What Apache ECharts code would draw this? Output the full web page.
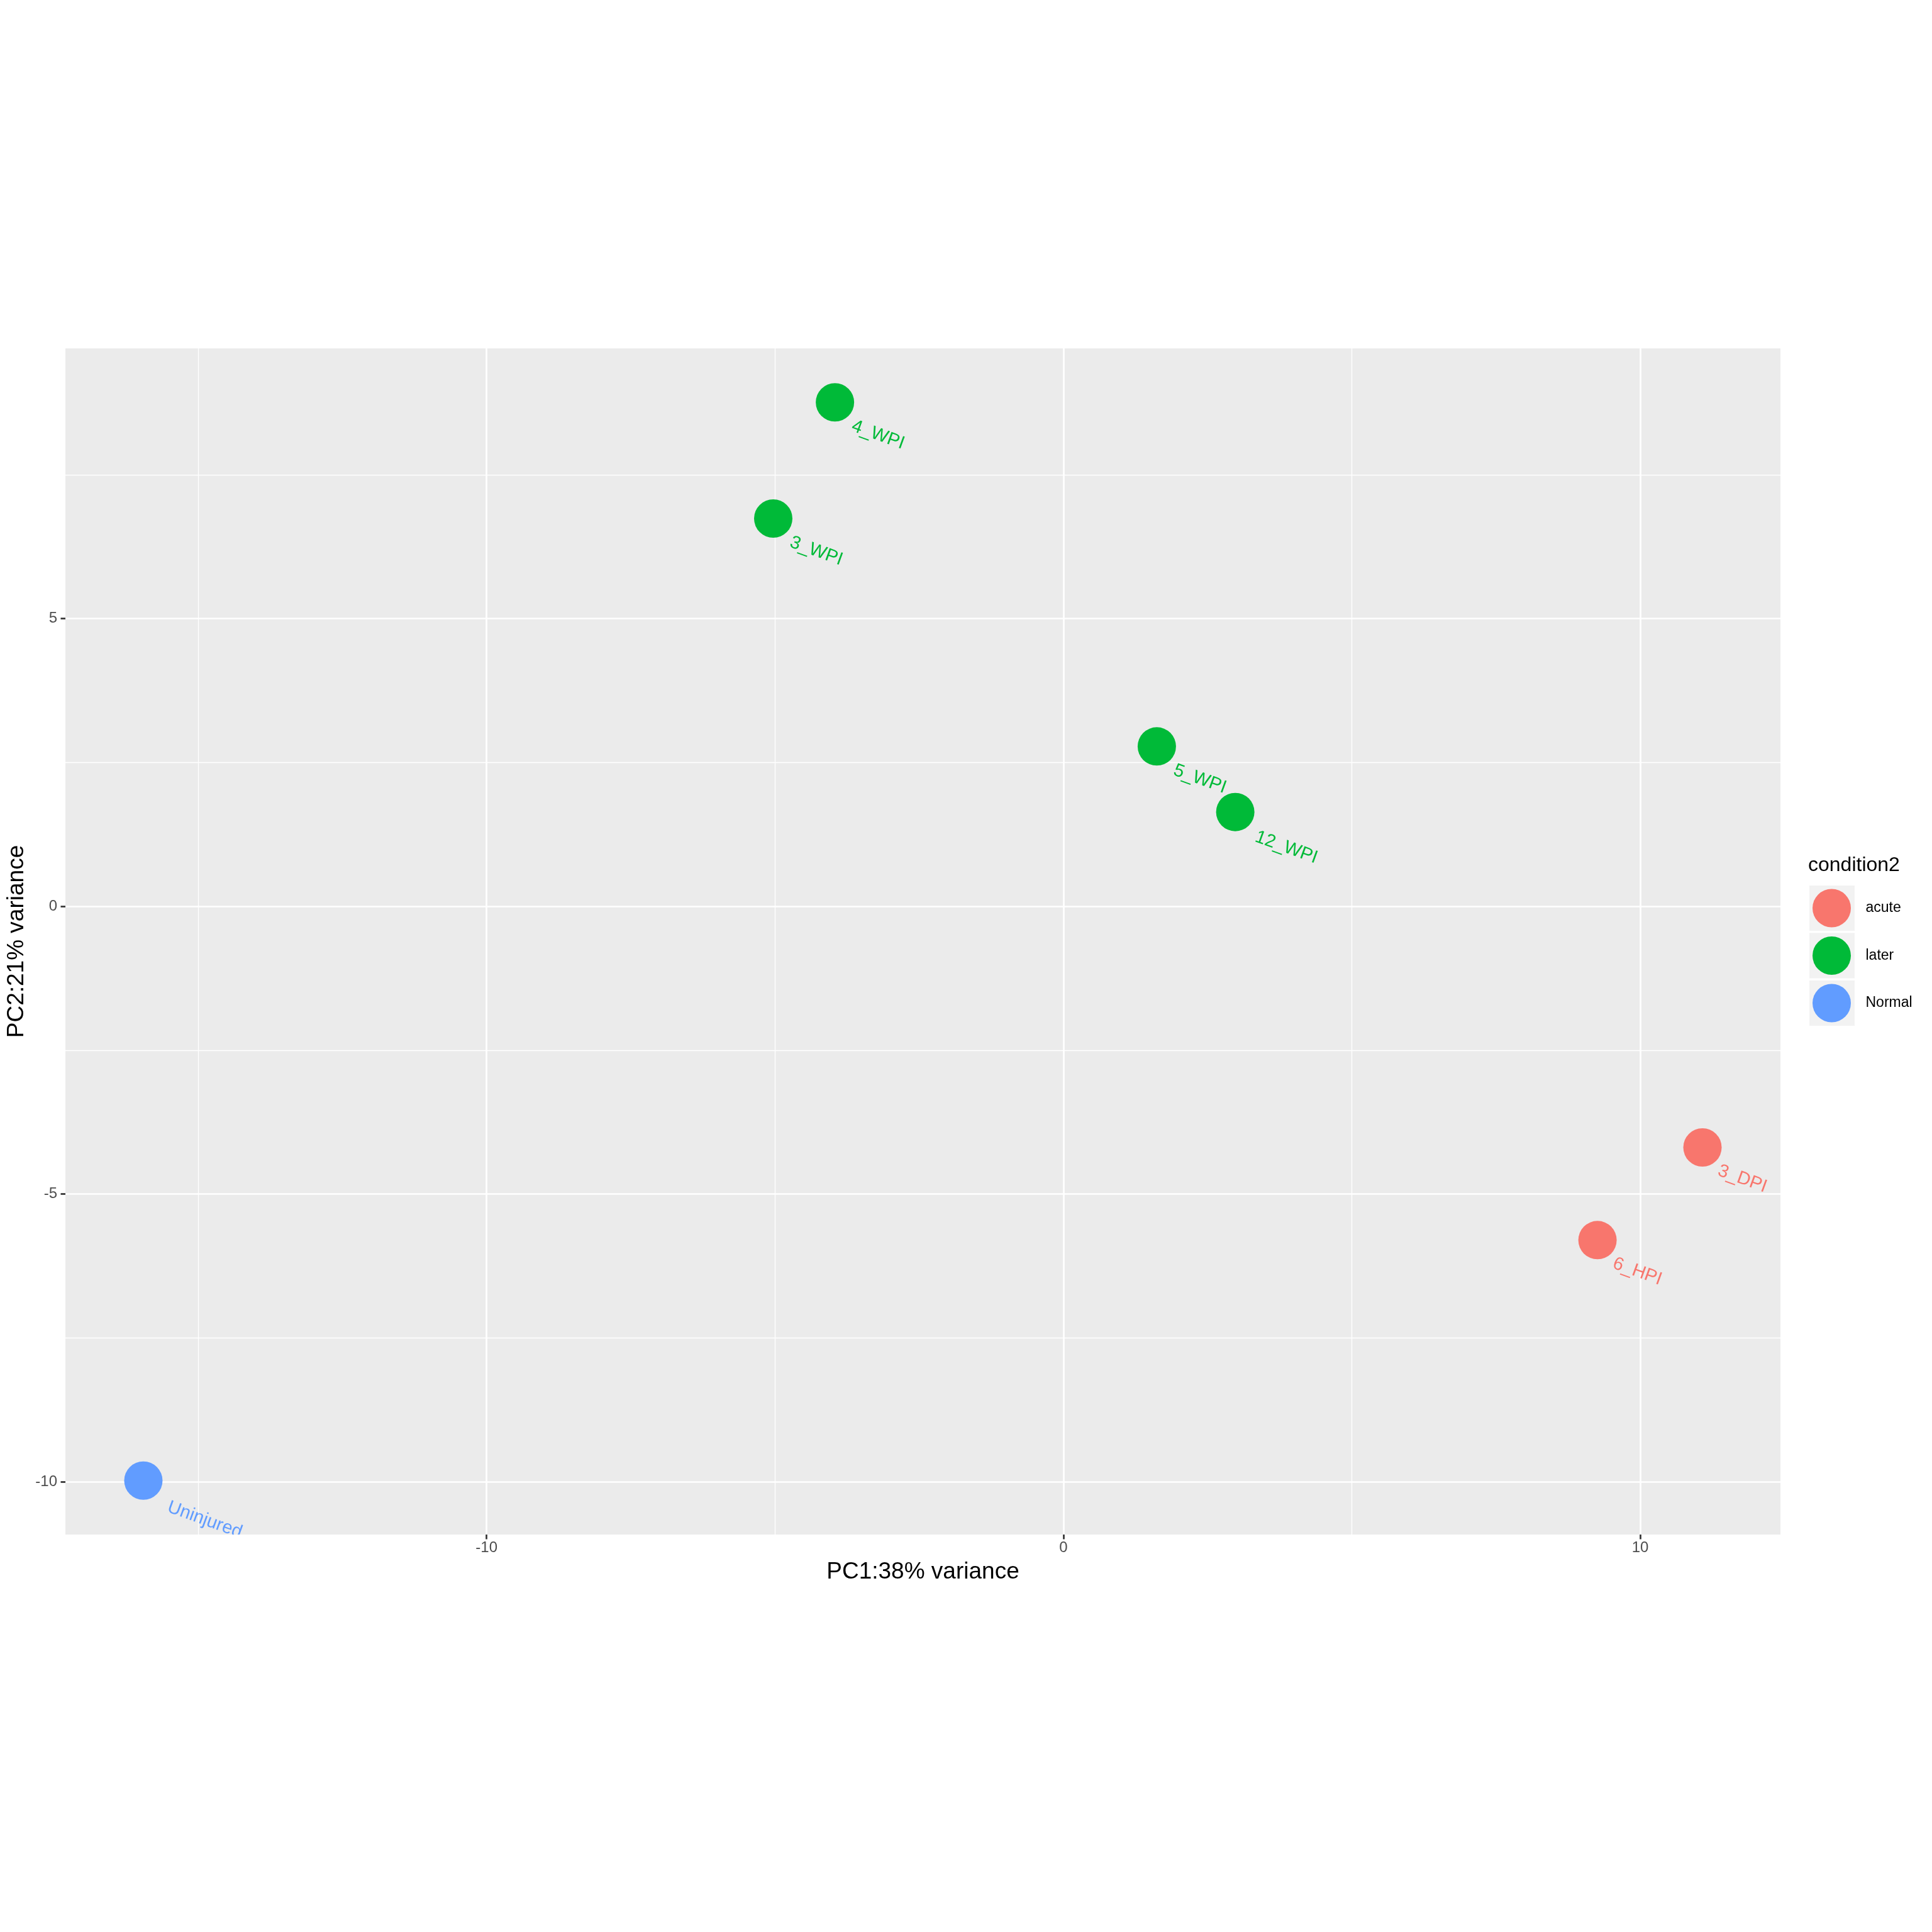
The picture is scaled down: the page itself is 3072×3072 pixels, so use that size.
<!DOCTYPE html>
<html><head><meta charset="utf-8">
<script src="https://cdn.jsdelivr.net/npm/echarts@6/dist/echarts.min.js"></script>
<style>html,body{margin:0;padding:0;background:#fff}#c{width:3072px;height:3072px}</style>
</head><body><div id="c"></div>
<script>
const sampleNames = ['3_DPI', '6_HPI', '3_WPI', '4_WPI', '5_WPI', '12_WPI', 'Uninjured'];
const sampleGroups = ['acute', 'acute', 'later', 'later', 'later', 'later', 'Normal'];
const pc1Values = [11.08, 9.26, -5.03, -3.96, 1.62, 2.98, -15.95];
const pc2Values = [-4.19, -5.80, 6.74, 8.76, 2.78, 1.64, -9.98];
const groupNames = ['acute', 'later', 'Normal'];
const groupColors = ['#F8766D', '#00BA38', '#619CFF'];
const xMajorTicks = [-10, 0, 10];
const xMinorTicks = [-15, -5, 5];
const yMajorTicks = [-10, -5, 0, 5];
const yMinorTicks = [-7.5, -2.5, 2.5, 7.5];
const xTitle = 'PC1:38% variance';
const yTitle = 'PC2:21% variance';
const legendTitle = 'condition2';

const FONT = 'Liberation Sans';
const LABEL_SIZE = 29;
const LABEL_ANGLE = -20;
function expandRange(vals) {
  const lo = Math.min(...vals), hi = Math.max(...vals), pad = (hi - lo) * 0.05;
  return [lo - pad, hi + pad];
}
const [xMin, xMax] = expandRange(pc1Values);
const [yMin, yMax] = expandRange(pc2Values);

// label offset: a fixed nudge plus a shift along the (rotated) text direction proportional to its width
const mctx = document.createElement('canvas').getContext('2d');
mctx.font = LABEL_SIZE + 'px "' + FONT + '"';
const refW = mctx.measureText('4_WPI').width;
function labelPos(name) {
  const w = mctx.measureText(name).width;
  const along = 8.5 + 0.34 * (w - refW);
  const a = -LABEL_ANGLE * Math.PI / 180;
  return [30.5 + 24.5 + along * Math.cos(a), 30.5 + 20.5 + along * Math.sin(a)];
}

const chart = echarts.init(document.getElementById('c'), null, {renderer: 'canvas'});

function axisCommon(min, max) {
  return {type: 'value', min: min, max: max, axisLine: {show: false, onZero: false}};
}

const series = groupNames.map((g, gi) => ({
  type: 'scatter',
  name: g,
  xAxisIndex: 0,
  yAxisIndex: 0,
  symbolSize: 61,
  itemStyle: {color: groupColors[gi], opacity: 1},
  emphasis: {disabled: true},
  data: sampleNames.map((n, i) => ({i: i, n: n}))
    .filter(d => sampleGroups[d.i] === g)
    .map(d => ({value: [pc1Values[d.i], pc2Values[d.i], d.n], label: {position: labelPos(d.n)}})),
  label: {
    show: true,
    formatter: p => p.value[2],
    align: 'left',
    verticalAlign: 'top',
    rotate: LABEL_ANGLE,
    fontSize: LABEL_SIZE,
    fontFamily: FONT,
    color: groupColors[gi]
  }
}));

chart.setOption({
  animation: false,
  backgroundColor: '#FFFFFF',
  grid: {left: 104, right: 241, top: 554, bottom: 632, show: true, backgroundColor: '#EBEBEB', borderWidth: 0, containLabel: false},
  title: {text: legendTitle, left: 2875, top: 1360, padding: 0,
    textStyle: {fontSize: 32, fontWeight: 'normal', color: '#000', fontFamily: FONT}},
  xAxis: [
    Object.assign(axisCommon(xMin, xMax), {
      position: 'bottom',
      axisTick: {show: true, length: 7.5, lineStyle: {color: '#333333', width: 2.7}, customValues: xMajorTicks},
      axisLabel: {customValues: xMajorTicks, margin: 9, fontSize: 24, color: '#4D4D4D', fontFamily: FONT},
      splitLine: {show: true, lineStyle: {color: '#FFFFFF', width: 2.7}},
      name: xTitle, nameLocation: 'middle', nameGap: 41,
      nameTextStyle: {fontSize: 37, color: '#000', fontFamily: FONT}
    }),
    Object.assign(axisCommon(xMin, xMax), {
      position: 'bottom',
      axisTick: {show: false, customValues: xMinorTicks},
      axisLabel: {show: false, customValues: xMinorTicks},
      splitLine: {show: true, lineStyle: {color: '#FFFFFF', width: 1.35}}
    })
  ],
  yAxis: [
    Object.assign(axisCommon(yMin, yMax), {
      position: 'left',
      axisTick: {show: true, length: 7.5, lineStyle: {color: '#333333', width: 2.7}, customValues: yMajorTicks},
      axisLabel: {customValues: yMajorTicks, margin: 13, fontSize: 24, color: '#4D4D4D', fontFamily: FONT},
      splitLine: {show: true, lineStyle: {color: '#FFFFFF', width: 2.7}},
      name: yTitle, nameLocation: 'middle', nameGap: 49, nameRotate: 90,
      nameTextStyle: {fontSize: 37, color: '#000', fontFamily: FONT}
    }),
    Object.assign(axisCommon(yMin, yMax), {
      position: 'left',
      axisTick: {show: false, customValues: yMinorTicks},
      axisLabel: {show: false, customValues: yMinorTicks},
      splitLine: {show: true, lineStyle: {color: '#FFFFFF', width: 1.35}}
    })
  ],
  legend: [
    {
      orient: 'vertical', left: 2877, top: 1408, padding: 0,
      itemWidth: 72, itemHeight: 72, itemGap: 3.5, icon: 'rect',
      selectedMode: false,
      data: groupNames.map(n => ({name: n, itemStyle: {color: '#F2F2F2', borderWidth: 0}})),
      formatter: () => '',
      textStyle: {fontSize: 10}
    },
    {
      orient: 'vertical', left: 2882, top: 1413.5, padding: 0,
      itemWidth: 72, itemHeight: 61, itemGap: 14.5, icon: 'circle',
      selectedMode: false,
      data: groupNames,
      textStyle: {fontSize: 23, color: '#000', fontFamily: FONT, padding: [0, 0, 0, 13]}
    }
  ],
  series: series
});

// Clip point labels at the panel bottom like the original (mask derived from the axis scales).
const pBL = chart.convertToPixel({xAxisIndex: 0, yAxisIndex: 0}, [xMin, yMin]);
const pMid = chart.convertToPixel({xAxisIndex: 0, yAxisIndex: 0}, [xMajorTicks[0] - 2, yMin]);
chart.setOption({
  graphic: [{
    type: 'rect', z: 100, silent: true,
    shape: {x: pBL[0] - 2, y: pBL[1], width: pMid[0] - pBL[0], height: 60},
    style: {fill: '#FFFFFF'}
  }]
});
</script></body></html>
